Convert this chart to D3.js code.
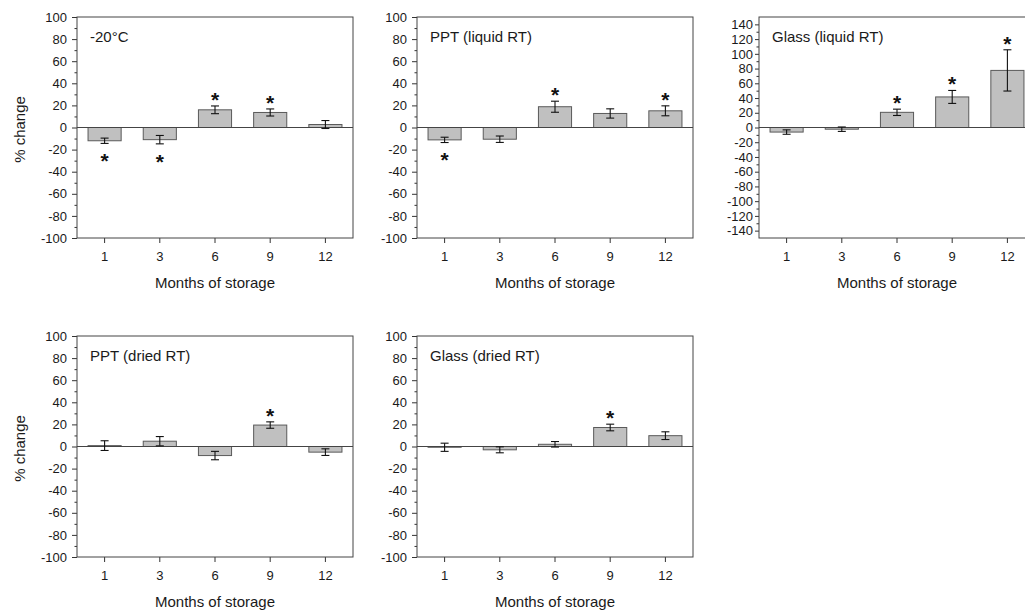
<!DOCTYPE html>
<html>
<head>
<meta charset="utf-8">
<script src="https://cdn.jsdelivr.net/npm/d3@7"></script>
<style>
  html, body { margin: 0; padding: 0; background: #fff; }
  svg { display: block; font-family: "Liberation Sans", Arial, sans-serif; }
</style>
</head>
<body>
<svg id="chart" width="1025" height="610"></svg>
<script>
// Storage months shared by every panel
const months = ["1", "3", "6", "9", "12"];

// Mean % change and its error for each storage condition
const freezerMean   = [-12, -11, 16, 13.6, 2.7];
const freezerErr    = [2.4, 3.8, 3.5, 3.2, 3.6];
const freezerSig    = [-1, -1, 1, 1, 0];

const pptLiquidMean = [-11.2, -10.6, 18.8, 12.7, 15.1];
const pptLiquidErr  = [2.4, 2.9, 5.0, 4.2, 4.5];
const pptLiquidSig  = [-1, 0, 1, 0, 1];

const glassLiquidMean = [-6.2, -2.3, 20.6, 41.5, 77.5];
const glassLiquidErr  = [3.0, 3.0, 4.3, 8.8, 28];
const glassLiquidSig  = [0, 0, 1, 1, 1];

const pptDriedMean  = [0.8, 4.8, -8.2, 19.4, -5.1];
const pptDriedErr   = [4.4, 4.2, 3.8, 2.9, 3.0];
const pptDriedSig   = [0, 0, 0, 1, 0];

const glassDriedMean = [-0.7, -3.0, 2.0, 17.2, 9.8];
const glassDriedErr  = [3.7, 2.7, 2.5, 3.0, 3.5];
const glassDriedSig  = [0, 0, 0, 1, 0];

// Panel titles
const panelTitles = ["-20°C", "PPT (liquid RT)", "Glass (liquid RT)", "PPT (dried RT)", "Glass (dried RT)"];

// Y axis domains and tick labels
const yDomainStd  = [-100, 100];
const yTicksStd   = [-100, -80, -60, -40, -20, 0, 20, 40, 60, 80, 100];
const yDomainWide = [-150, 150];
const yTicksWide  = [-140, -120, -100, -80, -60, -40, -20, 0, 20, 40, 60, 80, 100, 120, 140];

const xTitle = "Months of storage";
const yTitle = "% change";

const svg = d3.select("#chart");

const PW = 276, PH = 221;
const STAR_SIZE = 21;

const panels = [
  { title: panelTitles[0], mean: freezerMean, err: freezerErr, sig: freezerSig,
    domain: yDomainStd, ticks: yTicksStd, left: 77, top: 17, yLabel: true, tickSize: 5, tickPad: 5 },
  { title: panelTitles[1], mean: pptLiquidMean, err: pptLiquidErr, sig: pptLiquidSig,
    domain: yDomainStd, ticks: yTicksStd, left: 417, top: 17, yLabel: false, tickSize: 5, tickPad: 5 },
  { title: panelTitles[2], mean: glassLiquidMean, err: glassLiquidErr, sig: glassLiquidSig,
    domain: yDomainWide, ticks: yTicksWide, left: 759, top: 17, yLabel: false, tickSize: 4, tickPad: 2 },
  { title: panelTitles[3], mean: pptDriedMean, err: pptDriedErr, sig: pptDriedSig,
    domain: yDomainStd, ticks: yTicksStd, left: 77, top: 336, yLabel: true, tickSize: 5, tickPad: 5 },
  { title: panelTitles[4], mean: glassDriedMean, err: glassDriedErr, sig: glassDriedSig,
    domain: yDomainStd, ticks: yTicksStd, left: 417, top: 336, yLabel: false, tickSize: 5, tickPad: 5 }
];

const fmt = d => String(d);

panels.forEach(p => {
  const g = svg.append("g").attr("transform", `translate(${p.left},${p.top})`);

  const x = d3.scaleBand().domain(months).range([0, PW]).paddingInner(0.4).paddingOuter(0.2);
  const y = d3.scaleLinear().domain(p.domain).range([PH, 0]);

  // minor ticks halfway between labelled ticks
  const minor = p.ticks.slice(1).map((t, i) => (t + p.ticks[i]) / 2);

  const yAxis = g.append("g")
    .call(d3.axisLeft(y).tickValues(p.ticks).tickSize(p.tickSize).tickPadding(p.tickPad).tickFormat(fmt));
  const yMinor = g.append("g")
    .call(d3.axisLeft(y).tickValues(minor).tickSize(2.5).tickFormat(""));
  const xAxis = g.append("g").attr("transform", `translate(0,${PH})`)
    .call(d3.axisBottom(x).tickSize(5).tickPadding(9));

  [yAxis, yMinor, xAxis].forEach(a => {
    a.select(".domain").remove();
    a.selectAll(".tick line").attr("stroke", "#333");
    a.selectAll(".tick text").attr("fill", "#1a1a1a").style("font-size", "13px").style("font-family", "Liberation Sans, Arial, sans-serif");
  });

  const rows = months.map((m, i) => ({ m, v: p.mean[i], e: p.err[i], s: p.sig[i] }));

  // bars
  g.selectAll("rect.bar").data(rows).join("rect")
    .attr("class", "bar")
    .attr("x", d => x(d.m))
    .attr("width", x.bandwidth())
    .attr("y", d => y(Math.max(0, d.v)))
    .attr("height", d => Math.abs(y(d.v) - y(0)))
    .attr("fill", "#c0c0c0")
    .attr("stroke", "#5a5a5a")
    .attr("stroke-width", 1);

  // zero line
  g.append("line")
    .attr("x1", 0).attr("x2", PW)
    .attr("y1", y(0)).attr("y2", y(0))
    .attr("stroke", "#444").attr("stroke-width", 1);

  // error bars
  const eb = g.selectAll("g.err").data(rows).join("g").attr("class", "err")
    .attr("stroke", "#111").attr("stroke-width", 1.1);
  eb.append("line")
    .attr("x1", d => x(d.m) + x.bandwidth() / 2).attr("x2", d => x(d.m) + x.bandwidth() / 2)
    .attr("y1", d => y(d.v - d.e)).attr("y2", d => y(d.v + d.e));
  eb.append("line")
    .attr("x1", d => x(d.m) + x.bandwidth() / 2 - 4).attr("x2", d => x(d.m) + x.bandwidth() / 2 + 4)
    .attr("y1", d => y(d.v + d.e)).attr("y2", d => y(d.v + d.e));
  eb.append("line")
    .attr("x1", d => x(d.m) + x.bandwidth() / 2 - 4).attr("x2", d => x(d.m) + x.bandwidth() / 2 + 4)
    .attr("y1", d => y(d.v - d.e)).attr("y2", d => y(d.v - d.e));

  // significance markers, centred ~11px above or ~13px below the error bar
  const starShift = 0.57 * STAR_SIZE;
  g.selectAll("text.sig").data(rows.filter(d => d.s !== 0)).join("text")
    .attr("class", "sig")
    .attr("x", d => x(d.m) + x.bandwidth() / 2)
    .attr("y", d => (d.s > 0 ? y(d.v + d.e) - 11 : y(d.v - d.e) + 13) + starShift)
    .attr("text-anchor", "middle")
    .attr("font-size", STAR_SIZE + "px")
    .attr("font-weight", "bold")
    .attr("fill", "#111")
    .text("*");

  // frame
  g.append("rect")
    .attr("x", 0).attr("y", 0).attr("width", PW).attr("height", PH)
    .attr("fill", "none").attr("stroke", "#444").attr("stroke-width", 1);

  // panel title
  g.append("text")
    .attr("x", 13).attr("y", 25)
    .attr("font-size", "15px").attr("fill", "#1a1a1a")
    .text(p.title);

  // x axis title
  g.append("text")
    .attr("x", PW / 2).attr("y", PH + 50)
    .attr("text-anchor", "middle")
    .attr("font-size", "15px").attr("fill", "#1a1a1a")
    .text(xTitle);

  // y axis title
  if (p.yLabel) {
    g.append("text")
      .attr("transform", `translate(${-52},${y(0) + 2}) rotate(-90)`)
      .attr("text-anchor", "middle")
      .attr("font-size", "15px").attr("fill", "#1a1a1a")
      .text(yTitle);
  }
});
</script>
</body>
</html>
